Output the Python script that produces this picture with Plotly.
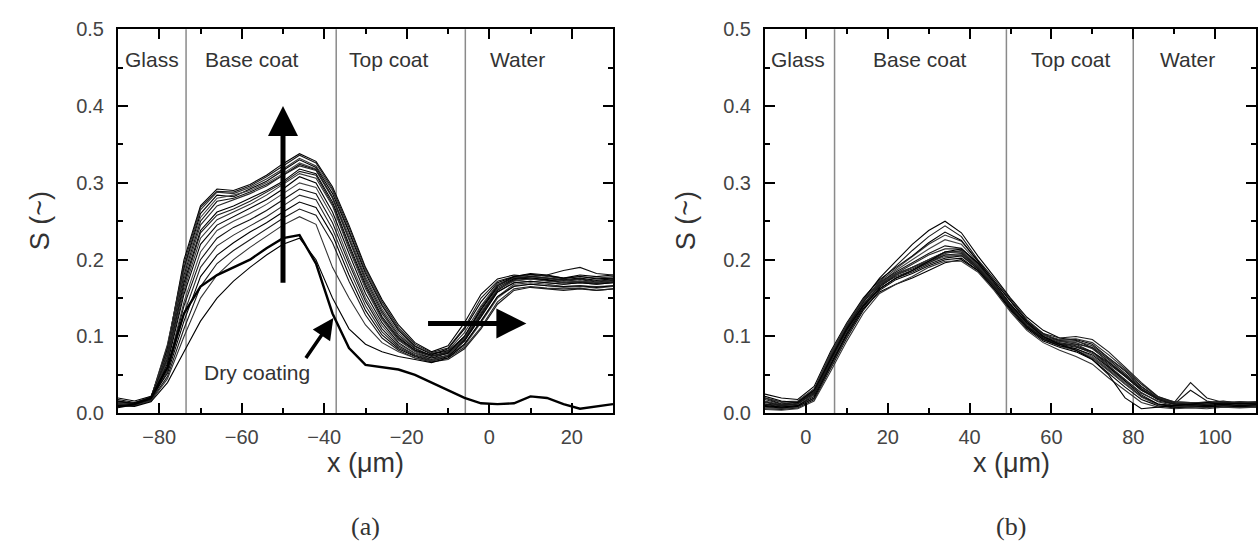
import plotly.graph_objects as go

# ---------------- data: panel (a) ----------------
x_a = [-90, -86, -82, -78, -74, -70, -66, -62, -58, -54, -50, -46, -42, -38, -34, -30,
       -26, -22, -18, -14, -10, -6, -2, 2, 6, 10, 14, 18, 22, 26, 30]

wet_a = [
    [.012, .010, .018, .085, .20, .27, .292, .29, .298, .31, .325, .338, .328, .295, .245, .19, .148, .115, .092, .08, .088, .118, .155, .175, .18, .178, .176, .174, .176, .173, .175],
    [.013, .012, .02, .088, .195, .268, .289, .288, .296, .308, .322, .336, .326, .292, .242, .188, .145, .112, .09, .079, .085, .112, .15, .172, .178, .176, .174, .172, .174, .171, .173],
    [.015, .012, .02, .09, .19, .265, .288, .286, .294, .305, .318, .332, .322, .29, .238, .185, .142, .11, .088, .078, .082, .105, .14, .168, .177, .18, .178, .175, .178, .176, .178],
    [.016, .013, .021, .082, .188, .26, .284, .282, .292, .302, .316, .33, .32, .286, .236, .182, .14, .108, .087, .077, .081, .10, .135, .166, .178, .181, .179, .176, .18, .178, .18],
    [.010, .014, .022, .08, .185, .255, .28, .284, .29, .30, .312, .326, .318, .282, .232, .178, .136, .105, .085, .075, .08, .098, .13, .16, .175, .178, .176, .172, .172, .17, .172],
    [.011, .012, .019, .078, .18, .25, .276, .28, .288, .298, .31, .324, .317, .281, .228, .175, .133, .102, .084, .075, .079, .096, .128, .16, .173, .175, .173, .17, .171, .169, .171],
    [.014, .011, .019, .075, .175, .245, .27, .278, .286, .296, .31, .322, .316, .28, .226, .172, .13, .10, .082, .074, .078, .095, .125, .158, .17, .172, .17, .168, .17, .168, .17],
    [.02, .016, .022, .07, .17, .238, .262, .27, .28, .29, .302, .318, .312, .275, .22, .168, .126, .098, .082, .076, .084, .11, .145, .17, .178, .182, .18, .176, .178, .175, .176],
    [.015, .013, .02, .072, .165, .235, .258, .266, .276, .288, .30, .315, .31, .272, .217, .165, .124, .096, .081, .074, .08, .10, .138, .166, .176, .178, .176, .173, .175, .172, .174],
    [.012, .013, .02, .068, .16, .228, .252, .262, .272, .284, .298, .312, .306, .27, .214, .162, .122, .095, .08, .072, .075, .09, .12, .152, .168, .17, .168, .165, .166, .165, .166],
    [.016, .012, .018, .065, .155, .22, .245, .256, .266, .278, .292, .308, .30, .262, .208, .156, .118, .092, .078, .072, .078, .10, .135, .164, .175, .176, .174, .17, .172, .17, .172],
    [.010, .010, .017, .06, .145, .21, .238, .25, .26, .272, .286, .30, .294, .256, .20, .15, .114, .09, .078, .07, .074, .088, .118, .15, .166, .168, .166, .164, .165, .163, .165],
    [.014, .012, .02, .058, .14, .20, .228, .242, .252, .264, .278, .292, .286, .248, .195, .146, .11, .088, .076, .07, .076, .096, .13, .162, .174, .178, .18, .186, .19, .182, .18],
    [.012, .011, .016, .055, .13, .19, .218, .232, .244, .256, .27, .284, .278, .24, .188, .14, .106, .086, .075, .069, .072, .086, .112, .145, .162, .165, .163, .162, .163, .16, .162],
    [.018, .014, .02, .052, .12, .178, .206, .222, .236, .248, .262, .275, .268, .232, .18, .134, .102, .084, .074, .068, .074, .094, .126, .158, .17, .172, .17, .168, .17, .168, .17],
    [.010, .012, .017, .048, .11, .165, .195, .212, .226, .24, .254, .266, .258, .222, .172, .128, .098, .082, .072, .067, .07, .084, .11, .142, .16, .164, .162, .16, .162, .16, .162],
    [.014, .010, .016, .045, .10, .15, .18, .20, .216, .23, .245, .256, .246, .19, .15, .115, .092, .08, .072, .068, .076, .098, .132, .162, .172, .175, .172, .17, .172, .17, .172],
    [.010, .009, .015, .04, .08, .12, .15, .172, .19, .206, .22, .228, .20, .15, .11, .09, .08, .074, .07, .066, .072, .09, .12, .152, .165, .168, .166, .165, .166, .164, .166],
]

dry_a = [.008, .012, .02, .06, .13, .165, .18, .19, .20, .215, .228, .232, .195, .13, .085, .063,
         .06, .057, .05, .04, .03, .02, .013, .012, .013, .022, .02, .012, .006, .009, .012]

# ---------------- data: panel (b) ----------------
x_b = [-10, -6, -2, 2, 6, 10, 14, 18, 22, 26, 30, 34, 38, 42, 46, 50, 54, 58, 62, 66, 70,
       74, 78, 82, 86, 90, 94, 98, 102, 106, 110]

wet_b = [
    [.02, .012, .015, .03, .075, .115, .148, .176, .198, .22, .238, .25, .235, .205, .178, .15, .125, .108, .098, .095, .085, .066, .048, .03, .02, .015, .014, .012, .014, .012, .013],
    [.012, .008, .01, .025, .07, .11, .145, .172, .192, .212, .23, .244, .23, .20, .175, .148, .122, .104, .094, .09, .08, .062, .044, .026, .016, .012, .012, .01, .012, .01, .011],
    [.016, .011, .013, .028, .072, .113, .146, .171, .188, .204, .22, .232, .224, .198, .172, .145, .12, .103, .094, .092, .084, .068, .05, .032, .019, .013, .012, .011, .013, .012, .012],
    [.025, .02, .018, .035, .08, .118, .15, .174, .19, .205, .222, .236, .225, .198, .172, .146, .12, .102, .095, .096, .09, .072, .055, .035, .02, .014, .012, .014, .016, .013, .015],
    [.008, .006, .008, .02, .06, .105, .14, .168, .186, .20, .214, .226, .22, .196, .17, .142, .118, .10, .09, .084, .074, .058, .04, .022, .012, .009, .01, .008, .01, .009, .01],
    [.015, .01, .012, .028, .072, .112, .144, .17, .184, .196, .208, .218, .215, .195, .168, .14, .116, .10, .092, .088, .08, .064, .048, .03, .018, .012, .03, .016, .012, .014, .012],
    [.01, .008, .01, .024, .066, .107, .141, .166, .182, .194, .206, .214, .214, .194, .168, .141, .117, .10, .091, .087, .078, .061, .044, .027, .015, .01, .011, .01, .011, .01, .011],
    [.01, .008, .01, .022, .064, .104, .138, .164, .18, .19, .20, .21, .21, .19, .165, .138, .114, .098, .088, .082, .072, .056, .038, .022, .012, .01, .012, .01, .012, .01, .011],
    [.018, .012, .014, .03, .074, .114, .146, .168, .18, .188, .198, .206, .206, .188, .164, .136, .112, .096, .09, .09, .086, .07, .052, .034, .02, .014, .013, .015, .013, .015, .014],
    [.02, .014, .015, .03, .076, .115, .147, .169, .18, .19, .20, .21, .21, .192, .167, .14, .117, .102, .096, .097, .092, .076, .058, .038, .021, .014, .013, .014, .015, .013, .014],
    [.006, .005, .007, .018, .058, .098, .134, .16, .174, .182, .192, .20, .202, .186, .162, .134, .11, .094, .086, .08, .07, .052, .034, .018, .01, .007, .009, .008, .01, .008, .009],
    [.007, .006, .008, .019, .06, .10, .136, .162, .176, .186, .196, .204, .206, .19, .164, .136, .112, .096, .087, .082, .072, .055, .038, .021, .011, .008, .009, .008, .009, .008, .009],
    [.012, .01, .012, .026, .068, .108, .14, .162, .176, .184, .194, .202, .205, .188, .165, .138, .114, .098, .09, .086, .08, .066, .05, .032, .018, .012, .01, .012, .014, .012, .013],
    [.02, .015, .016, .032, .078, .116, .148, .17, .182, .19, .198, .208, .212, .192, .168, .14, .116, .10, .094, .094, .088, .072, .056, .038, .022, .015, .014, .013, .015, .014, .015],
    [.009, .007, .009, .02, .062, .102, .136, .158, .168, .176, .186, .196, .20, .186, .162, .136, .112, .096, .088, .084, .076, .06, .042, .024, .012, .008, .008, .009, .008, .009, .008],
    [.014, .01, .012, .028, .07, .11, .142, .166, .178, .186, .196, .206, .208, .19, .166, .14, .118, .104, .098, .10, .096, .08, .06, .04, .022, .014, .04, .02, .014, .015, .014],
    [.005, .004, .006, .016, .054, .094, .13, .156, .168, .178, .19, .198, .198, .184, .16, .132, .108, .092, .082, .074, .064, .046, .03, .014, .008, .006, .007, .006, .008, .007, .008],
    [.022, .016, .014, .03, .07, .11, .14, .162, .176, .186, .198, .21, .214, .196, .17, .142, .118, .10, .09, .082, .07, .05, .02, .006, .008, .01, .012, .014, .012, .013, .012],
]

# region boundaries and labels
bounds_a = [-73.5, -37.1, -5.8]
bounds_b = [7, 49, 80]
regions = ["Glass", "Base coat", "Top coat", "Water"]
label_x_a = [-81.8, -57.6, -24.2, 6.8]
label_x_b = [-2.0, 27.8, 64.9, 93.2]

W, H = 1258, 552
LINE_COLORS = ["#000000", "#1a1a1a", "#333333", "#000000", "#444444", "#111111", "#2a2a2a"]

fig = go.Figure()

for i, ys in enumerate(wet_a):
    fig.add_trace(go.Scatter(x=x_a, y=ys, mode="lines", xaxis="x", yaxis="y",
                             line=dict(color=LINE_COLORS[i % len(LINE_COLORS)], width=1.1),
                             showlegend=False, hoverinfo="skip"))
fig.add_trace(go.Scatter(x=x_a, y=dry_a, mode="lines", xaxis="x", yaxis="y",
                         line=dict(color="black", width=2.4),
                         showlegend=False, hoverinfo="skip"))
for i, ys in enumerate(wet_b):
    fig.add_trace(go.Scatter(x=x_b, y=ys, mode="lines", xaxis="x2", yaxis="y2",
                             line=dict(color=LINE_COLORS[i % len(LINE_COLORS)], width=1.1),
                             showlegend=False, hoverinfo="skip"))

TICKFONT = dict(family="Liberation Sans, Arial, sans-serif", size=20, color="#444")


def xax(domain, rng, anchor):
    return dict(domain=domain, range=rng, anchor=anchor, dtick=20, tick0=0,
                ticks="inside", ticklen=10, tickwidth=1.5, tickcolor="black",
                minor=dict(ticks="inside", ticklen=5, tickwidth=1.5, dtick=10, tick0=0, tickcolor="black"),
                showline=True, linewidth=2, linecolor="black", mirror="ticks",
                showgrid=False, zeroline=False, tickfont=TICKFONT, ticklabelstandoff=5)


def yax(domain, anchor):
    return dict(domain=domain, range=[0, 0.5], anchor=anchor, dtick=0.1, tick0=0,
                tickformat=".1f",
                ticks="inside", ticklen=10, tickwidth=1.5, tickcolor="black",
                minor=dict(ticks="inside", ticklen=5, tickwidth=1.5, dtick=0.05, tick0=0, tickcolor="black"),
                showline=True, linewidth=2, linecolor="black", mirror="ticks",
                showgrid=False, zeroline=False, tickfont=TICKFONT, ticklabelstandoff=8)


ydom = [(H - 419) / H, (H - 19) / H]
fig.update_layout(
    width=W, height=H, margin=dict(l=0, r=0, t=0, b=0),
    paper_bgcolor="white", plot_bgcolor="white",
    xaxis=xax([118 / W, 613 / W], [-90, 30], "y"),
    yaxis=yax(ydom, "x"),
    xaxis2=xax([765 / W, 1256 / W], [-10, 110], "y2"),
    yaxis2=yax(ydom, "x2"),
)

shapes = []
for b in bounds_a:
    shapes.append(dict(type="line", xref="x", yref="y domain", x0=b, x1=b, y0=0, y1=1,
                       line=dict(color="#8a8a8a", width=1.5), layer="below"))
for b in bounds_b:
    shapes.append(dict(type="line", xref="x2", yref="y2 domain", x0=b, x1=b, y0=0, y1=1,
                       line=dict(color="#8a8a8a", width=1.5), layer="below"))
fig.update_layout(shapes=shapes)

LABFONT = dict(family="Liberation Sans, Arial, sans-serif", size=21, color="#333")
ann = []
for name, lx in zip(regions, label_x_a):
    ann.append(dict(x=lx, y=0.461, xref="x", yref="y", text=name, showarrow=False, font=LABFONT,
                    xanchor="center", yanchor="middle"))
for name, lx in zip(regions, label_x_b):
    ann.append(dict(x=lx, y=0.461, xref="x2", yref="y2", text=name, showarrow=False, font=LABFONT,
                    xanchor="center", yanchor="middle"))

# arrows in panel (a)
ann.append(dict(x=-50, y=0.40, ax=-50, ay=0.168, xref="x", yref="y", axref="x", ayref="y",
                text="", showarrow=True, arrowhead=2, arrowsize=1.2, arrowwidth=5, arrowcolor="black"))
ann.append(dict(x=9, y=0.117, ax=-15.2, ay=0.117, xref="x", yref="y", axref="x", ayref="y",
                text="", showarrow=True, arrowhead=2, arrowsize=1.2, arrowwidth=5, arrowcolor="black"))
ann.append(dict(x=-37.8, y=0.124, ax=-44.7, ay=0.07, xref="x", yref="y", axref="x", ayref="y",
                text="", showarrow=True, arrowhead=2, arrowsize=1.2, arrowwidth=3.5, arrowcolor="black"))
ann.append(dict(x=-56.4, y=0.053, xref="x", yref="y", text="Dry coating", showarrow=False, font=LABFONT,
                xanchor="center", yanchor="middle"))

TITLEFONT = dict(family="Liberation Sans, Arial, sans-serif", size=27, color="#333")
SERIF = dict(family="Liberation Serif, DejaVu Serif, serif", size=26, color="#333")
for cx, sx, lab in [(365.5, 40, "(a)"), (1011, 686, "(b)")]:
    ann.append(dict(x=cx / W, y=1 - 471 / H, xref="paper", yref="paper", text="x (\u03bcm)",
                    showarrow=False, font=TITLEFONT, xanchor="center", yanchor="middle"))
    ann.append(dict(x=sx / W, y=1 - 219 / H, xref="paper", yref="paper", text="S (~)",
                    textangle=-90, showarrow=False, font=TITLEFONT, xanchor="center", yanchor="middle"))
    ann.append(dict(x=cx / W, y=1 - 537 / H, xref="paper", yref="paper", text=lab,
                    showarrow=False, font=SERIF, xanchor="center", yanchor="middle"))
fig.update_layout(annotations=ann)

fig.write_html("out.html")
